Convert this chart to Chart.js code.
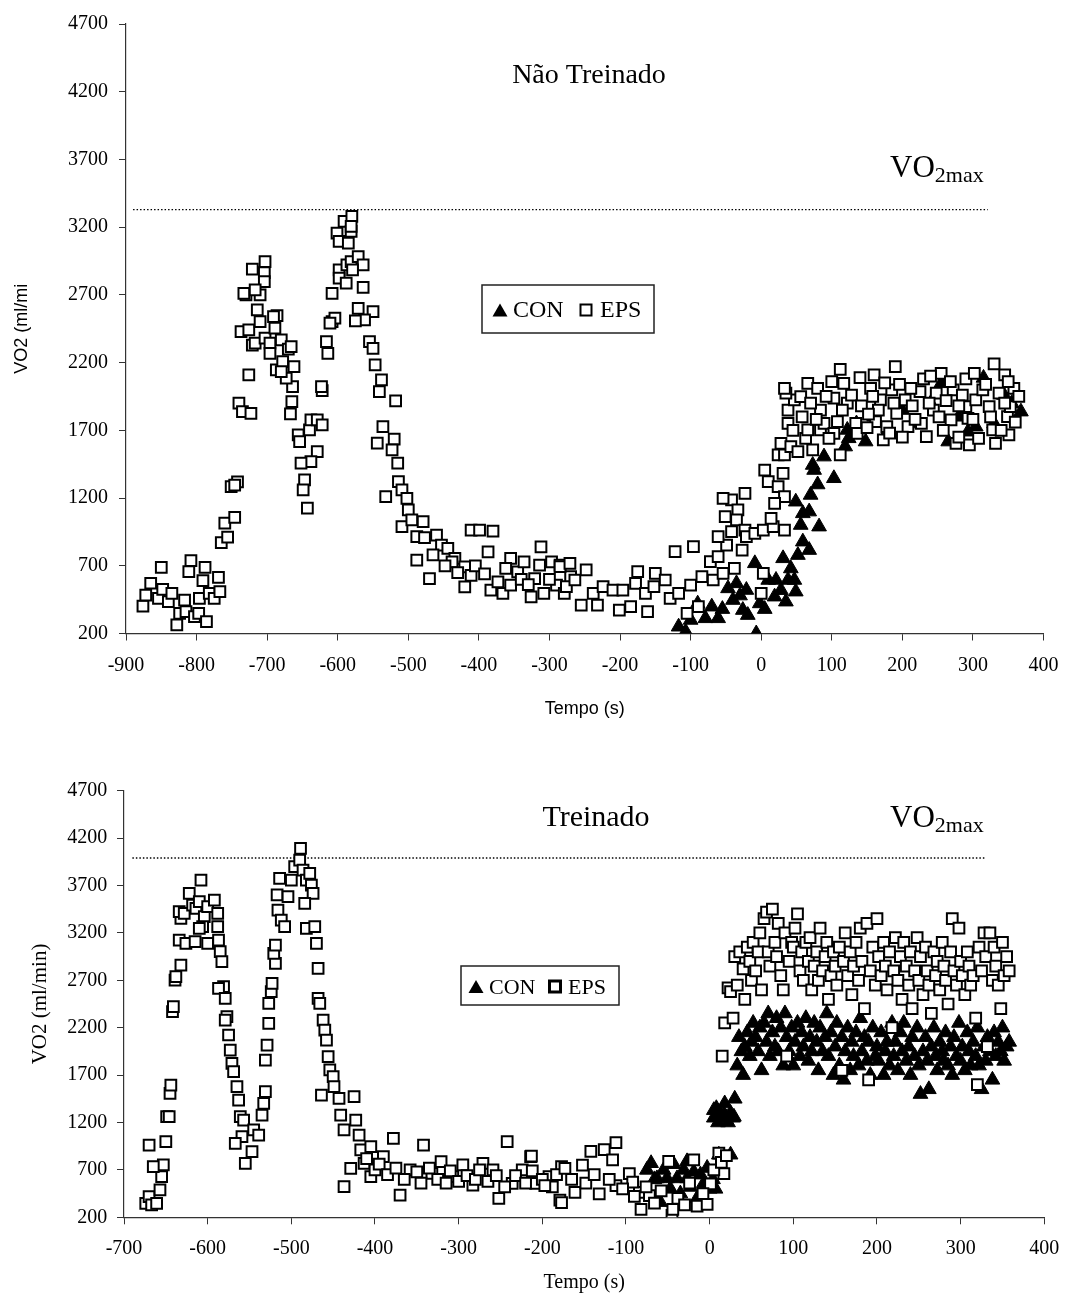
<!DOCTYPE html>
<html>
<head>
<meta charset="utf-8">
<script src="https://cdn.jsdelivr.net/npm/chart.js@4.4.1/dist/chart.umd.min.js"></script>
<style>
  body { margin: 0; background: #fff; }
  .box { position: absolute; left: 0; }
</style>
</head>
<body>
<div class="box" style="top:0"><canvas id="chartNT" width="1072" height="725"></canvas></div>
<div class="box" style="top:760px"><canvas id="chartTR" width="1072" height="535"></canvas></div>
<script>
// ---- Não Treinado (top) ----
const ntEps = [
  [-876,403],[-872,484],[-865,571],[-850,689],[-854,460],[-848,526],[-840,435],[-835,497],[-828,263],[-824,349],
  [-817,447],[-815,361],[-811,656],[-808,738],[-803,324],[-796,460],[-797,349],[-791,590],[-788,689],[-786,287],
  [-782,497],[-775,460],[-769,615],[-767,510],
  [-765,871],[-760,1014],[-756,911],[-746,1058],[-751,1284],[-742,1320],[-746,1296],[-740,1900],[-735,1838],[-723,1826],
  [-726,2109],[-730,2700],[-733,2712],[-721,2890],[-710,2700],[-703,2946],[-704,2865],[-704,2798],[-717,2737],[-737,2429],
  [-726,2441],[-721,2330],[-710,2503],[-717,2343],[-714,2589],[-703,2380],[-696,2343],[-696,2269],[-689,2454],[-686,2546],
  [-691,2540],[-687,2146],[-680,2368],[-678,2208],[-670,2300],[-666,2318],[-662,2171],[-664,2023],[-665,1912],[-667,1821],
  [-673,2085],[-680,2134],[-656,1666],[-654,1617],[-640,1703],[-638,1777],[-629,1777],[-622,1740],[-629,1543],[-638,1469],
  [-652,1457],[-647,1334],[-649,1260],[-643,1125],
  [-622,1993],[-623,2023],[-616,2355],[-614,2269],[-608,2503],[-604,2528],[-611,2491],[-608,2712],[-598,2884],[-598,2823],
  [-601,3156],[-598,3095],[-591,3243],[-580,3280],[-581,3169],[-585,3083],[-581,3206],[-587,2921],[-581,2946],[-571,2983],
  [-564,2921],[-579,2884],[-588,2786],[-564,2755],[-571,2601],[-550,2577],[-562,2515],[-575,2509],[-555,2355],[-550,2306],
  [-547,2183],[-538,2072],[-541,1986],[-518,1917],[-536,1728],[-544,1605],[-520,1636],[-523,1555],[-515,1457],[-514,1321],
  [-509,1260],[-502,1198],[-532,1211],[-500,1112],[-509,989],[-495,1038],[-479,1026],[-488,915],[-477,907],[-488,741],
  [-470,605],[-460,926],[-453,853],[-444,828],[-434,754],[-420,692],[-420,545],[-411,963],[-399,963],[-380,955],
  [-387,803],[-383,520],[-366,496],[-355,754],[-345,655],[-336,729],[-326,471],[-312,840],[-314,705],[-308,496],
  [-297,729],[-285,705],[-290,557],[-279,496],[-438,729],[-411,630],[-373,581],[-355,557],[-321,606],[-465,780],
  [-448,700],[-430,650],[-405,700],[-392,640],[-362,680],[-340,600],[-330,560],[-300,600],[-270,620],
  [-285,693],[-271,718],[-276,546],[-264,595],[-248,669],[-255,410],[-238,496],[-232,410],[-224,546],[-210,521],
  [-201,373],[-196,521],[-185,398],[-178,570],[-175,656],[-164,496],[-161,361],[-150,644],[-152,546],[-136,595],
  [-129,460],[-122,804],[-117,496],[-105,349],[-100,558],[-96,841],[-89,398],[-84,619],[-72,730],[-68,595],
  [-61,767],[-54,644],[-49,853],[-42,952],[-38,681],[-61,915],[-51,1063],[-42,1186],[-54,1198],[-23,1235],
  [-33,1112],[-35,1038],[-23,964],[-21,915],[-9,939],[3,964],[17,989],[33,964],[14,1050],[-27,816],
  [3,644],[0,496],[5,1407],[10,1321],[24,1284],[31,1383],[33,1210],[19,1161],[24,1518],[33,1518],
  [28,1604],[42,1580],[52,1543],[63,1641],[73,1555],[66,1703],[84,1703],[112,1518],[38,1752],[38,1850],
  [47,1924],[35,1974],[33,2010],[56,1949],[66,2047],[80,2010],[84,1850],[89,1752],[103,1678],[108,1764],
  [103,1937],[117,2047],[122,1900],[134,1752],[136,1678],[155,2010],[162,1764],[169,1924],[173,1629],[178,1727],
  [185,1998],[192,1826],[204,1924],[208,1727],[225,1986],[227,1752],[234,1654],[244,1850],[248,1974],[269,1777],
  [276,1604],[272,1998],[290,1875],[293,1789],[295,1592],[304,1924],[314,1998],[323,1875],[328,1703],[332,1604],
  [337,1974],[349,1801],[351,1666],[358,2010],[353,1875],
  [112,2150],[140,2090],[190,2170],[230,2080],[255,2120],[330,2190],[345,2110],[290,2080],[160,2110],[100,2060],
  [45,1700],[58,1800],[70,1900],[78,1780],[92,1950],[96,1640],[115,1850],[128,1960],[142,1880],[150,1720],
  [158,1950],[166,1850],[175,2050],[182,1680],[188,1900],[196,2040],[200,1650],[214,1880],[218,1780],[238,1900],
  [252,1800],[258,1700],[262,1920],[280,1650],[285,1960],[300,1780],[308,1640],[318,2040],[325,1800],[340,1700],
  [345,1900],[360,1760],[365,1950],[212,2010],[240,2100],[268,2060],[302,2120],[350,2060],[280,1880],[152,1820]
];
const ntCon = [
  [-117,250],[-107,213],[-100,300],[-90,420],[-79,312],[-61,312],[-70,398],[-55,380],[-47,533],[-40,447],
  [-35,570],[-30,480],[-26,373],[-19,336],[-9,718],[-7,200],[-21,521],[-2,422],[5,380],[10,595],
  [19,472],[21,595],[28,520],[31,755],[35,435],[38,595],[42,680],[47,595],[49,509],[52,779],
  [59,878],[68,816],[49,1173],[59,1087],[68,1100],[70,1223],[56,1001],[82,989],[80,1300],[73,1444],
  [75,1407],[89,1506],[103,1346],[119,1580],[124,1641],[148,1617],[122,1703],[135,1750],[160,1800],[180,1700],
  [200,1850],[220,1750],[240,1900],[255,2047],[265,1617],[280,1800],[293,1690],[304,1727],[315,2087],[330,1750],
  [344,1961],[355,1900],[368,1838]
];
const ntMaxLine = [[-890,3330],[321,3330]];

// ---- Treinado (bottom) ----
const trEps = [
  [-674,347],[-670,417],[-667,330],[-661,347],[-657,488],[-655,628],[-653,752],[-665,734],[-670,962],[-650,998],
  [-649,1261],[-646,1261],[-645,1507],[-644,1595],[-642,2369],[-641,2422],[-639,2703],[-638,2738],[-632,2861],[-634,3125],
  [-626,3090],[-632,3353],[-634,3424],[-628,3406],[-622,3617],[-618,3494],[-614,3459],[-610,3529],[-608,3757],[-604,3371],
  [-600,3476],[-606,3265],[-610,3248],[-615,3107],[-600,3090],[-592,3547],[-588,3406],[-588,3265],[-587,3125],[-585,3002],
  [-583,2896],[-581,2633],[-587,2615],[-579,2509],[-577,2316],[-579,2281],[-575,2123],[-573,1964],[-571,1824],[-569,1736],
  [-565,1578],[-563,1437],[-561,1261],[-557,1226],[-559,1050],[-567,980],[-555,769],[-547,892],[-545,1121],[-539,1068],
  [-535,1279],[-533,1402],[-531,1525],[-531,1859],[-529,2017],[-527,2246],[-527,2457],[-524,2580],[-523,2668],[-519,2879],
  [-521,2984],[-519,3072],[-516,3441],[-517,3600],[-512,3336],[-508,3265],[-514,3775],[-504,3582],[-500,3757],[-496,3898],
  [-490,3968],[-489,4092],[-486,3863],[-482,3757],[-478,3828],[-476,3705],[-474,3617],[-484,3511],[-482,3248],[-472,3265],
  [-470,3090],[-468,2826],[-468,2509],[-466,2457],[-462,2281],[-460,2175],[-458,2070],[-456,1894],[-454,1754],[-450,1683],
  [-449,1578],[-464,1490],[-443,1455],[-425,1472],[-441,1279],[-423,1226],[-437,1121],[-419,1068],[-417,910],[-405,945],
  [-378,1033],[-429,716],[-437,523],[-413,769],[-405,628],[-390,839],[-370,435],[-358,699],[-342,962],[-332,664],
  [-321,787],[-307,628],[-295,752],[-283,540],[-271,769],[-259,699],[-252,400],[-242,998],[-236,558],[-224,699],
  [-214,839],[-208,558],[-192,628],[-179,382],[-177,734],
  [-410,820],[-400,700],[-395,760],[-385,650],[-375,720],[-365,600],[-350,680],[-345,560],[-335,720],[-325,600],
  [-315,560],[-310,690],[-300,580],[-290,640],[-280,600],[-275,700],[-265,580],[-255,640],[-245,520],[-232,640],
  [-220,560],[-212,690],[-200,600],[-188,520],[-183,650],
  [-213,846],[-197,535],[-173,716],[-177,355],[-161,464],[-152,751],[-142,896],[-126,914],[-112,987],[-116,806],
  [-132,446],[-112,535],[-96,662],[-84,464],[-82,283],[-49,789],[-45,220],[-44,283],[-19,806],[-15,319],
  [-3,337],[1,553],[11,878],[17,662],[-72,428],[-92,572],[-165,600],[-148,560],[-138,650],[-120,600],
  [-104,500],[-90,420],[-76,520],[-66,350],[-58,480],[-38,400],[-30,330],[-24,560],[-8,450],[5,700],
  [14,780],[20,850],
  [15,1900],[18,2250],[22,2620],[25,2580],[28,2300],[30,2950],[33,2650],[36,3000],[40,2820],[42,2500],
  [45,3050],[48,2900],[50,2700],[52,3100],[55,2800],[58,3000],[60,3200],[62,2600],[65,3350],[68,3420],
  [70,3000],[72,2850],[75,3450],[78,3100],[80,2950],[82,3300],[85,2750],[88,2600],[90,3200],[92,1900],
  [95,2900],[98,3100],[100,3050],[102,3250],[105,3400],[108,2800],[110,3000],[112,2700],[115,3100],[118,2900],
  [120,3150],[122,2600],[125,2850],[128,3000],[130,2700],[132,3250],[135,2800],[138,2950],[140,3100],[142,2500],
  [145,2750],[148,3000],[150,2850],[152,2650],[155,3050],[158,1750],[160,2900],[162,3200],[165,2750],[168,3000],
  [170,2550],[172,2850],[175,3100],[178,2700],[180,3250],[182,2900],[185,2400],[188,3300],[190,1650],[192,2800],
  [195,3050],[198,2650],[200,3350],[202,2950],[205,2750],[208,3100],[210,2850],[212,2600],[215,3000],[218,2200],
  [220,2800],[222,3150],[225,2700],[228,2950],[230,2500],[232,3100],[235,2850],[238,2650],[240,3000],[242,2400],
  [245,2800],[248,3150],[250,2700],[252,2950],[255,2550],[258,3050],[260,2800],[262,2650],[265,2350],[268,3000],
  [270,2750],[272,2900],[275,2600],[278,3100],[280,2850],[282,2700],[285,2450],[288,3000],[290,3350],[292,2800],
  [295,2650],[298,3250],[300,2900],[302,2750],[305,2550],[308,3000],[310,2850],[312,2650],[315,2750],[318,2300],
  [320,1600],[322,3050],[325,2800],[328,3200],[330,2950],[332,2000],[335,3200],[338,2700],[340,3050],[342,2850],
  [345,2650],[348,2400],[350,3100],[352,2750],[355,2950],[358,2800]
];
const trCon = [
  [-75,700],[-70,770],[-66,600],[-63,610],[-59,360],[-55,700],[-51,610],[-47,500],[-43,760],[-39,610],
  [-35,450],[-31,700],[-27,610],[-27,790],[-23,520],[-19,680],[-15,400],[-11,650],[-7,560],[-3,720],
  [0,500],[4,600],[7,500],[11,860],[17,1290],[25,860],[29,1260],[5,1330],
  [5,1250],[8,1350],[10,1200],[12,1300],[15,1250],[18,1400],[20,1250],[22,1200],[25,1300],[28,1250],
  [30,1450],[33,1800],[35,2100],[38,1950],[40,1700],[42,2000],[45,2150],[48,1900],[50,2050],[52,2250],
  [55,2100],[58,1950],[60,2200],[62,1750],[65,2250],[68,2050],[70,2350],[72,1900],[75,2150],[78,2000],
  [80,2300],[82,1950],[85,2200],[88,1800],[90,2350],[92,2100],[95,1950],[98,2200],[100,1800],[102,2050],
  [105,2250],[108,1900],[110,2150],[112,2000],[115,2300],[118,1850],[120,2100],[122,1950],[125,2250],[128,2050],
  [130,1750],[132,2200],[135,1950],[138,2100],[140,2350],[142,1900],[145,2150],[148,1700],[150,2000],[152,2250],
  [155,1800],[158,2100],[160,1650],[162,1950],[165,2200],[168,1750],[170,2050],[172,1900],[175,2150],[178,1800],
  [180,2300],[182,1950],[185,2100],[188,1850],[190,2050],[192,1700],[195,2200],[198,1900],[200,2000],[202,1850],
  [205,2150],[208,1700],[210,1950],[212,2050],[215,1800],[218,2250],[220,1900],[222,2050],[225,1750],[228,2150],
  [230,1950],[232,2250],[235,1850],[238,2000],[240,1700],[242,2100],[245,1900],[248,2200],[250,1800],[252,1500],
  [255,1950],[258,2100],[260,1850],[262,1550],[265,2000],[268,2200],[270,1900],[272,1750],[275,2050],[278,1950],
  [280,1850],[282,2150],[285,1800],[288,2000],[290,1700],[292,2100],[295,1900],[298,2250],[300,1850],[302,2000],
  [305,1750],[308,2150],[310,1950],[312,1800],[315,2050],[318,1900],[320,2200],[322,1800],[325,1550],[328,2000],
  [330,1850],[332,2100],[335,1950],[338,1650],[340,2150],[342,1900],[345,2050],[348,1950],[350,2200],[352,1850],
  [355,2000],[358,2050]
];
const trMaxLine = [[-690,3990],[329,3990]];

const SERIF = '"Liberation Serif", "Times New Roman", serif';
const SANS = '"Liberation Sans", Arial, sans-serif';

const toXY = arr => arr.map(([x, y]) => ({ x, y }));

// titles, VO2max label and the boxed legend, in canvas pixels
const notesPlugin = {
  id: 'notes',
  afterDraw(chart, args, o) {
    const ctx = chart.ctx;
    ctx.save();
    ctx.fillStyle = '#000';
    ctx.textBaseline = 'alphabetic';

    ctx.font = o.titleSize + 'px ' + SERIF;
    ctx.textAlign = 'center';
    ctx.fillText(o.title, o.titleX, o.titleY);

    ctx.textAlign = 'left';
    ctx.font = o.vSize + 'px ' + SERIF;
    ctx.fillText('VO', o.vX, o.vY);
    const w = ctx.measureText('VO').width;
    ctx.font = o.subSize + 'px ' + SERIF;
    ctx.fillText('2max', o.vX + w, o.vY + o.subDrop);

    const L = o.legend;
    ctx.fillStyle = '#fff';
    ctx.fillRect(L.x, L.y, L.w, L.h);
    ctx.strokeStyle = '#222';
    ctx.lineWidth = 1.5;
    ctx.strokeRect(L.x, L.y, L.w, L.h);

    ctx.fillStyle = '#000';
    ctx.beginPath();
    ctx.moveTo(L.triX, L.midY - L.triH / 2);
    ctx.lineTo(L.triX + L.triW / 2, L.midY + L.triH / 2);
    ctx.lineTo(L.triX - L.triW / 2, L.midY + L.triH / 2);
    ctx.closePath();
    ctx.fill();

    ctx.strokeStyle = '#000';
    ctx.lineWidth = L.sqLine;
    ctx.strokeRect(L.sqX - L.sq / 2, L.midY - L.sq / 2, L.sq, L.sq);

    ctx.font = L.size + 'px ' + SERIF;
    ctx.fillText('CON', L.conX, L.base);
    ctx.fillText('EPS', L.epsX, L.base);
    ctx.restore();
  }
};

function makeChart(id, cfg) {
  const axisColor = '#333';
  return new Chart(document.getElementById(id), {
    type: 'scatter',
    data: {
      datasets: [
        { label: 'EPS', data: toXY(cfg.eps), pointStyle: 'rect', pointRadius: 7.6,
          backgroundColor: '#fff', borderColor: '#000', borderWidth: 2, order: 0 },
        { label: 'CON', data: toXY(cfg.con), pointStyle: 'triangle', pointRadius: 8.5,
          backgroundColor: '#000', borderColor: '#000', borderWidth: 1, order: 1 },
        { type: 'line', label: 'VO2max', data: toXY(cfg.maxLine), borderColor: '#000', borderWidth: 1.3,
          borderDash: [1.5, 2], pointRadius: 0, fill: false, order: 2 }
      ]
    },
    plugins: [notesPlugin],
    options: {
      responsive: false,
      animation: false,
      events: [],
      layout: { padding: cfg.pad },
      plugins: { legend: { display: false }, tooltip: { enabled: false }, notes: cfg.notes },
      scales: {
        x: {
          type: 'linear', min: cfg.xmin, max: 400,
          afterFit: s => { s.height = cfg.xh; },
          ticks: { stepSize: 100, color: '#000', padding: cfg.xTickPad,
                   font: { family: SERIF, size: 20 }, callback: v => String(v) },
          grid: { drawOnChartArea: false, drawTicks: true, tickLength: 7, color: axisColor },
          border: { color: axisColor, width: 1.2 },
          title: { display: true, text: 'Tempo (s)', color: '#000',
                   font: { family: cfg.titleFont, size: cfg.xTitleSize }, padding: { top: 0, bottom: cfg.xTitlePad } }
        },
        y: {
          min: 200, max: 4700,
          afterFit: s => { s.width = cfg.yw; },
          ticks: { stepSize: 500, color: '#000', padding: cfg.yTickPad,
                   font: { family: SERIF, size: 20 }, callback: v => String(v) },
          grid: { drawOnChartArea: false, drawTicks: true, tickLength: 7, color: axisColor },
          border: { color: axisColor, width: 1.2 },
          title: { display: true, text: cfg.yTitle, color: '#000',
                   font: { family: cfg.titleFont, size: cfg.yTitleSize }, padding: { top: cfg.yTitlePad, bottom: 0 } }
        }
      }
    }
  });
}

makeChart('chartNT', {
  eps: ntEps, con: ntCon, maxLine: ntMaxLine, xmin: -900,
  pad: { left: 0, right: 20, top: 24, bottom: 0 },
  xh: 725 - 633.5, yw: 126,
  xTickPad: 13.5, yTickPad: 11,
  titleFont: SANS, xTitleSize: 18, xTitlePad: 5, yTitle: 'VO2 (ml/mi', yTitleSize: 18, yTitlePad: 11,
  notes: {
    title: 'Não Treinado', titleX: 589, titleY: 83, titleSize: 28,
    vX: 890, vY: 177, vSize: 31, subSize: 22, subDrop: 5,
    legend: { x: 482, y: 285, w: 172, h: 48, midY: 310, triX: 500, triW: 15, triH: 13,
              sqX: 586, sq: 11, sqLine: 2, conX: 513, epsX: 600, base: 317, size: 24 }
  }
});

makeChart('chartTR', {
  eps: trEps, con: trCon, maxLine: trMaxLine, xmin: -700,
  pad: { left: 0, right: 17.4, top: 30.7, bottom: 0 },
  xh: 535 - 30.7 - 426.6, yw: 124,
  xTickPad: 12.7, yTickPad: 9.7,
  titleFont: SERIF, xTitleSize: 20, xTitlePad: 0, yTitle: 'VO2 (ml/min)', yTitleSize: 21, yTitlePad: 28,
  notes: {
    title: 'Treinado', titleX: 596, titleY: 66, titleSize: 30,
    vX: 890, vY: 67, vSize: 31, subSize: 22, subDrop: 5,
    legend: { x: 461, y: 206, w: 158, h: 39, midY: 226.5, triX: 476, triW: 15, triH: 13,
              sqX: 555, sq: 11, sqLine: 3, conX: 489, epsX: 568, base: 234, size: 22 }
  }
});
</script>
</body>
</html>
